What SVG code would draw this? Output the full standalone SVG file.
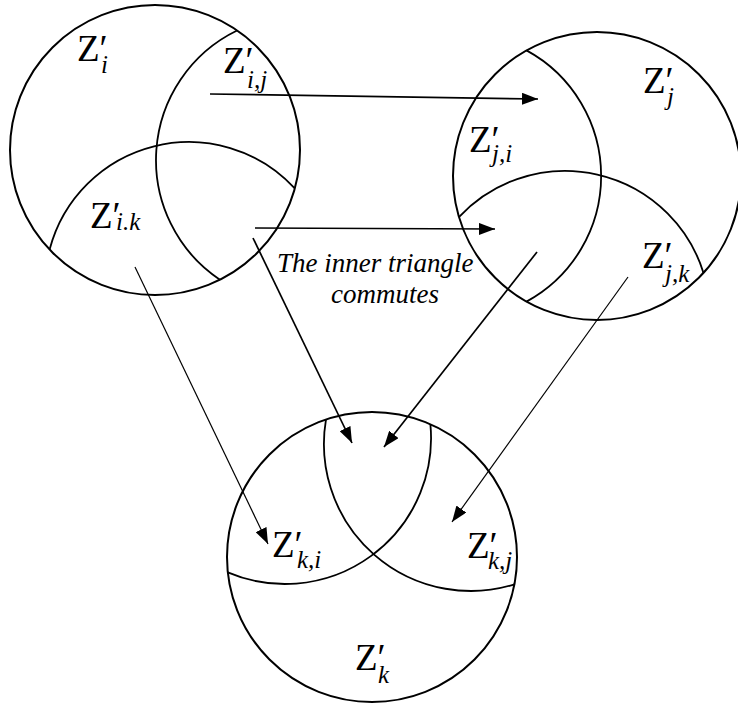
<svg xmlns="http://www.w3.org/2000/svg" width="738" height="704" viewBox="0 0 738 704">
<style>
.c{fill:none;stroke:#000;stroke-width:2}
.a{fill:none;stroke:#000;stroke-width:1.8}
.ln{fill:none;stroke:#000;stroke-width:1.7}
.thin{fill:none;stroke:#000;stroke-width:1.2}
text{font-family:'Liberation Serif','DejaVu Serif','Noto Serif',Times,serif;fill:#000}
.z{font-size:37px;font-style:normal}
.s{font-size:25px;font-style:italic}
.t{font-size:27px;font-style:italic}
</style>
<defs>
<marker id="ah" markerUnits="userSpaceOnUse" markerWidth="17" markerHeight="12" refX="16" refY="6" orient="auto">
<path d="M0,0 L16,6 L0,12 Z" fill="#000"/>
</marker>
</defs>
<rect width="738" height="704" fill="#fff"/>
<g id="node-i">
<circle class="c" cx="155" cy="150" r="145"/>
<path class="a" d="M237.1,30.5 A144,144 0 0 0 219.9,279.7"/>
<path class="a" d="M49.6,249.6 A144,144 0 0 1 294.8,188.4"/>
<text font-family="Liberation Serif, DejaVu Serif, serif"><tspan class="z" x="77" y="61">Z′</tspan><tspan class="s" x="101" y="73">i</tspan></text>
<text font-family="Liberation Serif, DejaVu Serif, serif"><tspan class="z" x="223" y="73">Z′</tspan><tspan class="s" x="247" y="88">i,j</tspan></text>
<text font-family="Liberation Serif, DejaVu Serif, serif"><tspan class="z" x="90" y="228">Z′</tspan><tspan class="s" x="116" y="230">i.k</tspan></text>
</g>
<g id="node-j">
<circle class="c" cx="597" cy="176" r="144"/>
<path class="a" d="M526.5,50.4 A143,143 0 0 1 526.5,301.6"/>
<path class="a" d="M458.9,217.1 A145,145 0 0 1 703.5,272.9"/>
<text font-family="Liberation Serif, DejaVu Serif, serif"><tspan class="z" x="469" y="152">Z′</tspan><tspan class="s" x="492" y="162">j,i</tspan></text>
<text font-family="Liberation Serif, DejaVu Serif, serif"><tspan class="z" x="643" y="93">Z′</tspan><tspan class="s" x="667" y="105">j</tspan></text>
<text font-family="Liberation Serif, DejaVu Serif, serif"><tspan class="z" x="642" y="268">Z′</tspan><tspan class="s" x="665" y="282">j,k</tspan></text>
</g>
<g id="node-k">
<circle class="c" cx="372" cy="557" r="145"/>
<path class="a" d="M326,419.4 A147,147 0 0 0 514.4,584.4"/>
<path class="a" d="M430.4,424.3 A146,146 0 0 1 227.8,572.3"/>
<text font-family="Liberation Serif, DejaVu Serif, serif"><tspan class="z" x="272" y="557">Z′</tspan><tspan class="s" x="297" y="568">k,i</tspan></text>
<text font-family="Liberation Serif, DejaVu Serif, serif"><tspan class="z" x="467" y="558">Z′</tspan><tspan class="s" x="488" y="569">k,j</tspan></text>
<text font-family="Liberation Serif, DejaVu Serif, serif"><tspan class="z" x="355" y="670">Z′</tspan><tspan class="s" x="378" y="683">k</tspan></text>
</g>
<g id="note">
<text class="t" x="277" y="272" font-family="Liberation Serif, DejaVu Serif, serif">The inner triangle</text>
<text class="t" x="331" y="303" font-family="Liberation Serif, DejaVu Serif, serif">commutes</text>
</g>
<g id="connectors">
<line class="ln" x1="210" y1="94" x2="538" y2="99" marker-end="url(#ah)"/>
<line class="ln" x1="255" y1="228" x2="495" y2="229" marker-end="url(#ah)"/>
<line class="thin" x1="135" y1="267" x2="268" y2="544" marker-end="url(#ah)"/>
<line class="ln" x1="253" y1="238" x2="352" y2="443" marker-end="url(#ah)"/>
<line class="ln" x1="537" y1="252" x2="384" y2="447" marker-end="url(#ah)"/>
<line class="thin" x1="628" y1="277" x2="452" y2="522" marker-end="url(#ah)"/>
</g>
</svg>
